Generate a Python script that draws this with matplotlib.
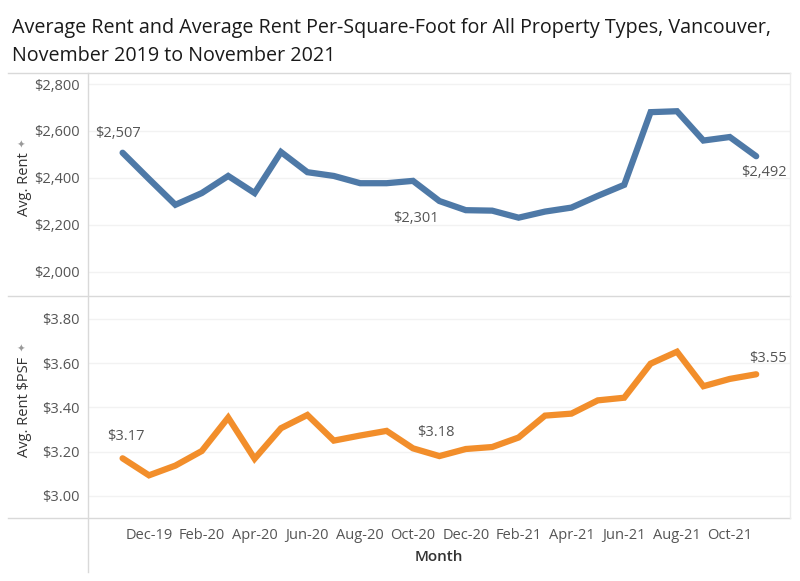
import matplotlib
matplotlib.use("Agg")
import matplotlib.pyplot as plt
from matplotlib.lines import Line2D
import numpy as np

plt.rcParams['font.family'] = ['Open Sans', 'DejaVu Sans']

months = ["Nov-19", "Dec-19", "Jan-20", "Feb-20", "Mar-20", "Apr-20", "May-20", "Jun-20",
          "Jul-20", "Aug-20", "Sep-20", "Oct-20", "Nov-20", "Dec-20", "Jan-21", "Feb-21",
          "Mar-21", "Apr-21", "May-21", "Jun-21", "Jul-21", "Aug-21", "Sep-21", "Oct-21", "Nov-21"]
avg_rent = [2507, 2395, 2285, 2335, 2408, 2335, 2510, 2424, 2408, 2377, 2377, 2387, 2301,
            2262, 2260, 2230, 2256, 2273, 2323, 2370, 2680, 2684, 2559, 2574, 2492]
avg_psf = [3.17, 3.093, 3.137, 3.203, 3.354, 3.168, 3.306, 3.366, 3.250, 3.273, 3.294, 3.215,
           3.18, 3.212, 3.221, 3.264, 3.363, 3.372, 3.432, 3.444, 3.598, 3.652, 3.496, 3.529, 3.55]
tick_months = ["Dec-19", "Feb-20", "Apr-20", "Jun-20", "Aug-20", "Oct-20", "Dec-20",
               "Feb-21", "Apr-21", "Jun-21", "Aug-21", "Oct-21"]
rent_ticks = [2000, 2200, 2400, 2600, 2800]
psf_ticks = [3.00, 3.20, 3.40, 3.60, 3.80]

BLUE = "#4e79a7"
ORANGE = "#f28e2b"
GRID = "#f2f2f2"
SEP = "#d9d9d9"
TXT = "#555555"
FS = 10.5

W, H = 800, 581
fig = plt.figure(figsize=(W / 100, H / 100), dpi=100)

def fx(px):
    return px / W

def fy(py):
    return 1 - py / H

left, right = 88, 790
ax1 = fig.add_axes([fx(left), fy(296), fx(right - left), (296 - 73) / H])
ax2 = fig.add_axes([fx(left), fy(518), fx(right - left), (518 - 296) / H])

x = np.arange(len(months))

for ax in (ax1, ax2):
    for s in ax.spines.values():
        s.set_visible(False)
    ax.set_xlim(-1.31, 25.28)
    ax.tick_params(length=0, colors=TXT, labelsize=FS)
    ax.grid(axis='y', color=GRID, lw=1)
    ax.set_axisbelow(True)

ax1.plot(x, avg_rent, color=BLUE, lw=4.5, solid_joinstyle='miter', solid_capstyle='round')
ax1.set_ylim(1896, 2847)
ax1.set_yticks(rent_ticks)
ax1.set_yticklabels([f"${v:,.0f}" for v in rent_ticks])
ax1.set_xticks([])

ax2.plot(x, avg_psf, color=ORANGE, lw=4.5, solid_joinstyle='miter', solid_capstyle='round')
ax2.set_ylim(2.90, 3.904)
ax2.set_yticks(psf_ticks)
ax2.set_yticklabels([f"${v:.2f}" for v in psf_ticks])
tick_idx = [months.index(m) for m in tick_months]
ax2.set_xticks(tick_idx)
ax2.set_xticklabels(tick_months)
ax2.tick_params(axis='x', pad=7)
ax1.tick_params(axis='y', pad=6)
ax2.tick_params(axis='y', pad=6)

# data labels
def lab(ax, i, vals, text, dx, dy):
    ax.annotate(text, (i, vals[i]), xytext=(dx, dy), textcoords='offset pixels',
                ha='center', va='center', fontsize=FS, color=TXT)

lab(ax1, 0, avg_rent, f"${avg_rent[0]:,}", -5, 19)
lab(ax1, 12, avg_rent, f"${avg_rent[12]:,}", -23, -17)
lab(ax1, 24, avg_rent, f"${avg_rent[24]:,}", 8, -16)
lab(ax2, 0, avg_psf, f"${avg_psf[0]:.2f}", 3, 22)
lab(ax2, 12, avg_psf, f"${avg_psf[12]:.2f}", -4, 24)
lab(ax2, 24, avg_psf, f"${avg_psf[24]:.2f}", 12, 16)

# separators
for py in (73, 296, 518):
    fig.add_artist(Line2D([fx(8), fx(790)], [fy(py), fy(py)], color=SEP, lw=1))
fig.add_artist(Line2D([fx(88), fx(88)], [fy(73), fy(572)], color=SEP, lw=1))
fig.add_artist(Line2D([fx(790), fx(790)], [fy(73), fy(518)], color="#ececec", lw=1))

# axis titles
fig.text(fx(25), fy(184), "Avg. Rent", rotation=90, ha='center', va='center',
         fontsize=10.5, color="#333333")
fig.text(fx(24), fy(143), "✦", rotation=90, ha='center', va='center', fontsize=7, color="#999999")
fig.text(fx(25), fy(407), "Avg. Rent $PSF", rotation=90, ha='center', va='center',
         fontsize=10.5, color="#333333")
fig.text(fx(24), fy(347), "✦", rotation=90, ha='center', va='center', fontsize=7, color="#999999")
fig.text(fx(439), fy(557), "Month", ha='center', va='center', fontsize=11,
         color="#333333", fontweight='semibold')

# title
fig.text(fx(12), fy(33), "Average Rent and Average Rent Per-Square-Foot for All Property Types, Vancouver,",
         ha='left', va='baseline', fontsize=14.2, color="#1a1a1a")
fig.text(fx(12), fy(61), "November 2019 to November 2021",
         ha='left', va='baseline', fontsize=14.2, color="#1a1a1a")

fig.savefig("out.png", dpi=100, facecolor="white")
